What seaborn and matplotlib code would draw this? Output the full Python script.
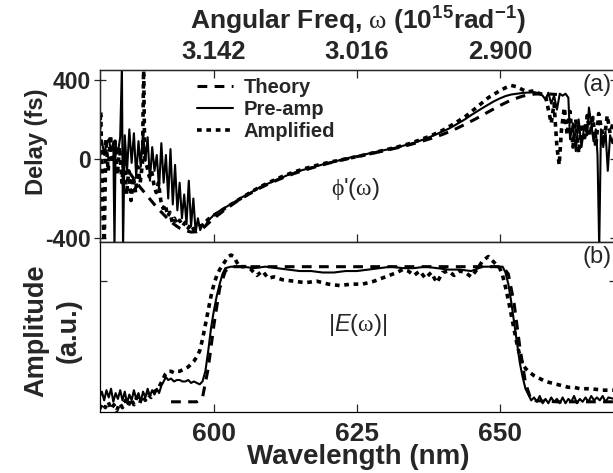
import numpy as np
import pandas as pd
import matplotlib
matplotlib.use("Agg")
import matplotlib.pyplot as plt
import seaborn as sns

# axis ticks
wl_ticks = [600, 625, 650]
wl_labels = ["600", "625", "650"]
freq_labels = ["3.142", "3.016", "2.900"]
delay_ticks = [-400, 0, 400]

# (a) group delay, fs
theory_x = [585, 586, 587, 588, 589, 590, 591, 592, 593, 594, 595, 596, 597, 598, 599,
            600, 602, 604, 606, 608, 610, 612, 614, 616, 618, 620, 622, 624, 626, 628,
            630, 632, 634, 636, 638, 640, 642, 644, 646, 648, 650, 652, 654, 656, 658, 660]
theory_y = [-60, -100, -140, -175, -210, -245, -275, -305, -330, -350, -362, -370, -368, -352, -326,
            -300, -255, -215, -180, -148, -120, -96, -74, -55, -38, -22, -8, 5, 18, 30,
            43, 56, 70, 86, 104, 124, 148, 176, 206, 238, 270, 298, 318, 328, 330, 326]

pre_x = [580.0, 580.4, 580.8, 581.2, 581.6, 582.0, 582.4, 582.6, 582.8, 583.2, 583.6, 583.9, 584.1,
         584.4, 584.8, 585.2, 585.6, 586.0, 586.4, 586.8, 587.2, 587.6, 588.0, 588.4, 588.8, 589.2,
         589.6, 590.0, 590.4, 590.8, 591.2, 591.6, 592.0, 592.4, 592.8, 593.2, 593.6, 594.0, 594.4,
         594.8, 595.2, 595.6, 596.0, 596.4, 596.8, 597.2, 597.6, 598.0, 598.4, 599.0, 599.6,
         600, 601, 602, 603, 604, 605, 606, 607, 608, 609, 610, 611, 612, 613, 614, 615, 616, 617,
         618, 619, 620, 621, 622, 623, 624, 625, 626, 627, 628, 629, 630, 631, 632, 633, 634, 635,
         636, 637, 638, 639, 640, 641, 642, 643, 644, 645, 646, 647, 648, 649, 650, 651, 652, 653,
         654, 655, 656, 657, 657.5, 658, 658.5, 659, 659.5, 660, 660.5, 661, 661.5, 662, 662.3,
         662.8, 663.3, 663.8, 664.3, 664.8, 665.3, 665.6, 666.0, 666.4, 666.8, 667.1, 667.4, 667.7,
         668.1, 668.5, 668.9, 669.3, 669.7, 670.2, 670.7]
pre_y = [60, 95, 20, 80, 100, 40, 85, -450, 70, 30, 110, 470, -450,
         120, -60, 150, -20, 130, -90, 90, -40, 140, -10, 110, -110, 60,
         -60, 20, -150, 80, -120, 20, -200, 50, -230, -30, -260, -120, -300,
         -180, -330, -110, -340, -200, -370, -300, -360, -330, -345, -310, -295,
         -282, -262, -245, -228, -210, -192, -178, -160, -143, -130, -118, -104, -93, -80, -70, -60, -52, -43,
         -36, -28, -20, -14, -6, 2, 8, 14, 20, 27, 33, 40, 46, 52, 58, 66, 74, 82,
         92, 102, 114, 126, 140, 152, 168, 185, 202, 222, 240, 258, 275, 292, 306, 318, 326, 330,
         334, 336, 338, 332, 320, 300, 335, 280, 320, 250, 330, 320, 330, 310, 100,
         180, 40, 200, 60, 170, 120, 260, 180, 90, 150, 20, -450, 150,
         60, 140, -60, 120, 80, 140, 100]

amp_x = [580.0, 580.2, 580.5, 580.8, 581.1, 581.5, 581.9, 582.3, 582.7, 583.1, 583.5, 583.9, 584.3,
         584.7, 585.1, 585.5, 585.9, 586.3, 586.7, 587.1, 587.5, 587.7, 587.9, 588.3, 588.7, 589.1,
         589.5, 589.9, 590.3, 590.7, 591.1, 591.5, 591.9, 592.3, 592.7, 593.1, 593.5, 594.0, 594.5,
         595.0, 595.5, 596.0, 596.5, 597.0, 597.5, 598.0, 598.5, 599.0,
         600, 602, 604, 606, 608, 610, 612, 614, 616, 618, 620, 622, 624, 626, 628, 630, 632, 634,
         636, 638, 640, 642, 644, 646, 648, 650, 651, 652, 653, 654, 655, 656, 657, 658, 658.5,
         659, 659.5, 660, 660.4, 660.8, 661.3, 661.8, 662.3, 662.8, 663.3, 663.8, 664.3, 664.8,
         665.3, 665.8, 666.3, 666.8, 667.3, 667.8, 668.3, 668.8, 669.3, 669.8, 670.3, 670.8]
amp_y = [150, 240, -200, -440, 100, -60, 120, -20, 90, -80, 60, -120, 20,
         -180, -60, -210, -90, -170, -40, -120, -20, 470, -10, -40, -90, -60,
         -130, -170, -120, -210, -250, -230, -290, -270, -320, -300, -330, -310, -340,
         -320, -350, -330, -360, -350, -340, -335, -320, -305,
         -285, -248, -212, -176, -142, -114, -88, -66, -48, -32, -18, -6, 6, 18, 32, 46, 60, 76,
         96, 118, 145, 178, 215, 262, 310, 345, 360, 372, 365, 350, 340, 345, 330, 320, 250,
         180, 280, 60, -30, 150, 260, 120, 240, 60, 200, 30, 180, 90,
         220, 120, 210, 60, 230, 150, 100, 220, 130, 180, 110, 200]

# (b) spectral amplitude, a.u.
th_amp_x = [592.5, 597.0, 598.0, 599.0, 600.0, 601.0, 602.0, 603.0, 650.5, 651.5, 652.5,
            653.5, 654.5, 655.5, 660.0, 670.5]
th_amp_y = [0.07, 0.07, 0.10, 0.30, 0.60, 0.85, 0.97, 1.0, 1.0, 0.95, 0.75,
            0.45, 0.20, 0.08, 0.07, 0.07]

pre_amp_x = [580.0, 580.4, 580.8, 581.2, 581.6, 582.0, 582.4, 582.8, 583.2, 583.6, 584.0, 584.4,
             584.8, 585.2, 585.6, 586.0, 586.4, 586.8, 587.2, 587.6, 588.0, 588.4, 588.8, 589.2,
             589.6, 590.0, 590.4, 590.8, 591.2, 591.6, 592.0, 592.5, 593.0, 593.5, 594.0, 594.5,
             595.0, 595.5, 596.0, 596.5, 597.0, 597.5, 598.0, 598.5, 599.0, 599.5, 600.0, 600.5,
             601.0, 601.5, 602.0, 603, 605, 607, 609, 611, 613, 615, 617, 619, 621, 623, 625, 627,
             629, 631, 633, 635, 637, 639, 641, 643, 645, 647, 649, 650.5, 651.0, 651.5, 652.0,
             652.5, 653.0, 653.5, 654.0, 654.5, 655.0, 655.5, 656.0, 656.5, 657.0, 657.5, 658.0,
             658.5, 659.0, 659.5, 660.0, 660.5, 661.0, 661.5, 662.0, 662.5, 663.0, 663.5, 664.0,
             664.5, 665.0, 665.5, 666.0, 666.5, 667.0, 667.5, 668.0, 668.5, 669.0, 670.0, 670.5]
pre_amp_y = [0.10, 0.14, 0.08, 0.15, 0.10, 0.16, 0.07, 0.13, 0.09, 0.15, 0.08, 0.14,
             0.06, 0.12, 0.08, 0.15, 0.09, 0.13, 0.07, 0.14, 0.10, 0.16, 0.11, 0.15,
             0.12, 0.16, 0.13, 0.18, 0.21, 0.24, 0.22, 0.23, 0.21, 0.22, 0.22, 0.21,
             0.21, 0.22, 0.20, 0.21, 0.20, 0.19, 0.21, 0.28, 0.42, 0.58, 0.70, 0.80,
             0.88, 0.95, 0.99, 1.0, 1.0, 0.99, 1.0, 0.99, 0.98, 0.97, 0.97, 0.96, 0.96, 0.97, 0.97, 0.98,
             0.99, 1.0, 0.99, 0.99, 1.0, 0.99, 0.98, 0.98, 0.97, 1.0, 1.0, 1.0, 0.96, 0.88, 0.76,
             0.62, 0.48, 0.34, 0.24, 0.16, 0.12, 0.08, 0.10, 0.07, 0.11, 0.06, 0.09,
             0.06, 0.10, 0.07, 0.09, 0.06, 0.10, 0.06, 0.09, 0.07, 0.11, 0.06, 0.09,
             0.07, 0.10, 0.07, 0.11, 0.08, 0.10, 0.08, 0.11, 0.07, 0.10, 0.09, 0.10]

ampl_amp_x = [580.0, 580.5, 581.0, 581.5, 582.0, 582.5, 583.0, 583.5, 584.0, 584.5, 585.0, 585.5,
              586.0, 586.5, 587.0, 587.5, 588.0, 588.5, 589.0, 589.5, 590.0, 590.5, 591.0, 591.5,
              592.0, 592.5, 593.0, 593.5, 594.0, 594.5, 595.0, 595.5, 596.0, 596.5, 597.0, 597.5,
              598.0, 598.5, 599.0, 599.5, 600.0, 600.5, 601.0, 601.5, 602.0, 602.5, 603.0, 603.5,
              604.0, 604.5, 605.5, 606.5, 607.5, 608.5, 609.5, 610.5, 612, 614, 616, 618, 620, 622,
              624, 626, 628, 630, 632, 633, 634, 635, 636, 637, 638, 639, 640, 641, 642, 643, 644,
              645, 646, 647, 648, 649, 650, 650.5, 651, 651.5, 652, 652.5, 653, 653.5, 654, 654.5,
              655, 656, 657, 658, 659, 660, 661, 662, 663, 664, 666, 668, 670.5]
ampl_amp_y = [0.02, 0.06, 0.03, 0.07, 0.02, 0.05, 0.01, 0.06, 0.03, 0.08, 0.04, 0.09,
              0.05, 0.10, 0.06, 0.11, 0.08, 0.12, 0.10, 0.14, 0.15, 0.18, 0.22, 0.26,
              0.28, 0.28, 0.27, 0.28, 0.28, 0.29, 0.30, 0.31, 0.33, 0.35, 0.38, 0.42,
              0.50, 0.60, 0.70, 0.80, 0.88, 0.94, 0.98, 1.01, 1.04, 1.07, 1.08, 1.07,
              1.03, 1.00, 1.0, 0.98, 0.94, 0.97, 0.92, 0.93, 0.91, 0.90, 0.89, 0.90, 0.88, 0.87,
              0.88, 0.88, 0.90, 0.93, 0.96, 0.98, 0.97, 0.94, 0.97, 0.92, 0.96, 0.89, 0.96, 0.97, 0.94, 0.97, 0.96,
              0.93, 0.98, 1.04, 1.07, 1.03, 0.99, 0.94, 0.86, 0.77, 0.67, 0.57, 0.47, 0.39, 0.33, 0.30,
              0.28, 0.25, 0.23, 0.21, 0.20, 0.19, 0.18, 0.17, 0.17, 0.16, 0.16, 0.15, 0.15]

sns.set_style("ticks")
plt.rcParams["font.family"] = ["Liberation Sans", "DejaVu Sans"]
plt.rcParams["mathtext.fontset"] = "custom"
plt.rcParams["mathtext.rm"] = "Liberation Serif"
plt.rcParams["mathtext.it"] = "Liberation Sans:italic"
plt.rcParams["mathtext.bf"] = "Liberation Sans:bold"

fig = plt.figure(figsize=(6.13, 4.73), dpi=100)
ax1 = fig.add_axes([0.1625, 0.4884, 0.843, 0.3636])
ax2 = fig.add_axes([0.1625, 0.129, 0.843, 0.3594])

dash_th = (0, (3.2, 2.4))
dot_amp = (0, (1.3, 1.3))

for ax, xs, ys in [(ax1, [theory_x, pre_x, amp_x], [theory_y, pre_y, amp_y]),
                   (ax2, [th_amp_x, pre_amp_x, ampl_amp_x], [th_amp_y, pre_amp_y, ampl_amp_y])]:
    sns.lineplot(x=xs[0], y=ys[0], ax=ax, color="black", lw=2.2, linestyle=dash_th,
                 sort=False, estimator=None)
    sns.lineplot(x=xs[1], y=ys[1], ax=ax, color="black", lw=1.5, linestyle="-",
                 sort=False, estimator=None)
    sns.lineplot(x=xs[2], y=ys[2], ax=ax, color="black", lw=2.6, linestyle=dot_amp,
                 sort=False, estimator=None)
    ax.set_xlim(580, 670.4)
    ax.set_xticks(wl_ticks)
    for s in ax.spines.values():
        s.set_linewidth(0.9)
        s.set_color("black")

# top panel
ax1.set_ylim(-420, 450)
ax1.set_yticks(delay_ticks)
ax1.set_yticklabels([str(v) for v in delay_ticks], fontweight="bold", fontsize=16.5)
ax1.tick_params(axis="y", direction="inout", length=8, width=0.9, right=True, pad=2)
ax1.tick_params(axis="x", direction="in", length=6, width=0.9, labelbottom=False)
ax1.set_xlabel("")
ax1.set_ylabel("Delay (fs)", fontweight="bold", fontsize=17)
ax1.yaxis.set_label_coords(-0.1, 0.58)

axt = ax1.twiny()
axt.set_xlim(ax1.get_xlim())
axt.set_xticks(wl_ticks)
axt.set_xticklabels(freq_labels, fontweight="bold", fontsize=18.5)
axt.tick_params(axis="x", direction="in", length=6, width=0.9, pad=4)
axt.set_xlabel(r"Angular Freq, $\mathrm{\omega}$ (10$^{\mathbf{15}}$rad$^{\mathbf{-1}}$)",
               fontweight="bold", fontsize=19, labelpad=8)
for s in axt.spines.values():
    s.set_linewidth(0.9)

ax1.text(624.8, -150, r"$\mathrm{\phi}$'($\mathrm{\omega}$)", ha="center", va="center", fontsize=17)
ax1.text(667.0, 374, "(a)", ha="center", va="center", fontsize=17)

handles = ax1.lines[:3]
ax1.legend(handles, ["Theory", "Pre-amp", "Amplified"], loc="upper left",
           bbox_to_anchor=(197 / 613, 1 - 78 / 473), bbox_transform=fig.transFigure,
           frameon=False, borderpad=0, borderaxespad=0, handlelength=1.8,
           handletextpad=0.5, labelspacing=0.15,
           prop={"weight": "bold", "size": 14.5})

# bottom panel
ax2.set_ylim(0, 1.17)
ax2.set_yticks([0.9])
ax2.set_yticklabels([])
ax2.tick_params(axis="y", direction="in", length=5, width=0.9, right=True)
ax2.tick_params(axis="x", direction="in", length=6, width=0.9, pad=7)
ax2.set_xticklabels(wl_labels, fontweight="bold", fontsize=19)
ax2.set_xlabel("Wavelength (nm)", fontweight="bold", fontsize=20, labelpad=-1)
ax2.set_ylabel("Amplitude\n(a.u.)", fontweight="bold", fontsize=19.5, linespacing=1.3)
ax2.yaxis.set_label_coords(-0.035, 0.48)
ax2.text(625.1, 0.6, r"|$\mathit{E}$($\mathrm{\omega}$)|", ha="center", va="center", fontsize=17)
ax2.text(667.0, 1.07, "(b)", ha="center", va="center", fontsize=17)

fig.savefig("out.png", dpi=100)
